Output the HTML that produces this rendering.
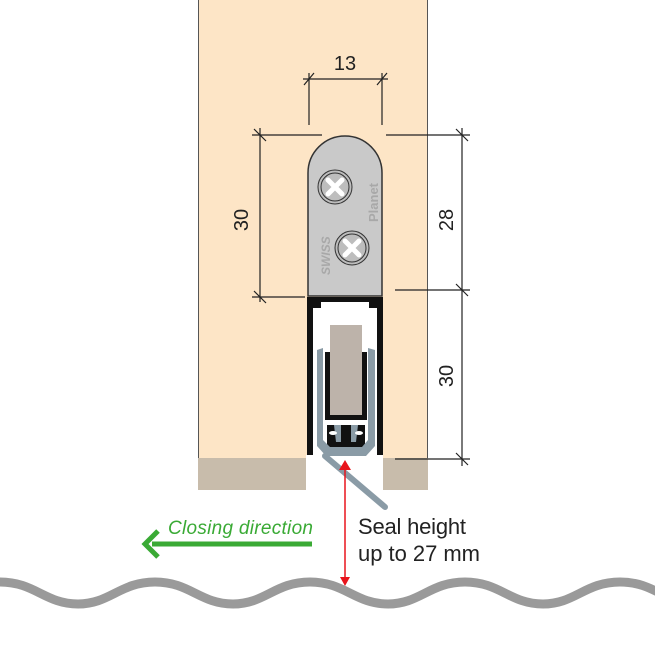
<!DOCTYPE html>
<html><head><style>body{margin:0;background:#fff}svg{display:block}</style></head><body>
<svg width="655" height="655" viewBox="0 0 655 655" xmlns="http://www.w3.org/2000/svg" font-family="Liberation Sans, sans-serif">
<rect x="198" y="0" width="230" height="490" fill="#fde5c6"/>
<line x1="427.5" y1="0" x2="427.5" y2="490" stroke="#555" stroke-width="1"/>
<line x1="198.5" y1="0" x2="198.5" y2="490" stroke="#555" stroke-width="1"/>
<rect x="198" y="458" width="108" height="32" fill="#c8bcab"/>
<rect x="383" y="458" width="45" height="32" fill="#c8bcab"/>
<rect x="306" y="455" width="77" height="36" fill="#fff"/>
<!-- channel -->
<rect x="307" y="297" width="76" height="161" fill="#fff"/>
<rect x="307" y="297" width="6" height="158" fill="#111"/>
<rect x="377" y="297" width="6" height="158" fill="#111"/>
<rect x="307" y="297" width="76" height="5" fill="#111"/>
<rect x="313" y="302" width="8" height="6" fill="#111"/>
<rect x="369" y="302" width="8" height="6" fill="#111"/>
<!-- grey block -->
<rect x="330" y="325" width="32" height="90" fill="#bdb3aa"/>
<!-- inner black U -->
<path d="M325 352 V420 H367 V352 H362 V415 H330 V352 Z" fill="#111"/>
<path d="M327 425 H365 V448 H327 Z" fill="#111"/>
<!-- seal profile -->
<path d="M317 350 L323 348 L323 440 L330 447 L362 447 L368 440 L368 348 L375 350 L375 446 L366 456 L326 456 L317 446 Z" fill="#8a9ba6"/>
<path d="M334 425 H341 V442 H336 Z M351 425 H358 L356 442 H351Z" fill="#8a9ba6"/>
<ellipse cx="333" cy="433" rx="4" ry="2" fill="#fff"/>
<ellipse cx="359" cy="433" rx="4" ry="2" fill="#fff"/>
<line x1="325" y1="456" x2="385" y2="507" stroke="#8a9ba6" stroke-width="6" stroke-linecap="round"/>
<!-- cap -->
<path d="M308 296 V173 A37 37 0 0 1 382 173 V296 Z" fill="#c9c9c9" stroke="#333" stroke-width="1.5"/>
<g stroke="#333" stroke-width="1" fill="#bdbdbd">
<circle cx="335" cy="187" r="17"/><circle cx="335" cy="187" r="14"/>
<circle cx="352" cy="248" r="17"/><circle cx="352" cy="248" r="14"/>
</g>
<g stroke="#fff" stroke-width="5" stroke-linecap="round">
<path d="M328 180 L342 194 M342 180 L328 194"/>
<path d="M345 241 L359 255 M359 241 L345 255"/>
</g>
<text transform="translate(378,222) rotate(-90)" font-size="13" font-weight="bold" fill="#a8a8a8">Planet</text>
<text transform="translate(330,275) rotate(-90)" font-size="12" font-weight="bold" font-style="italic" fill="#a8a8a8">SWISS</text>
<!-- dimensions -->
<g stroke="#222" stroke-width="1.2" fill="none">
<path d="M309 73 V125 M382 73 V125 M303 79 H388"/>
<path d="M304 85 L314 73 M377 85 L387 73"/>
<path d="M252 135 H322 M386 135 H470 M252 297 H305 M395 290 H470 M395 459 H470"/>
<path d="M260 128 V302 M462 128 V466"/>
<path d="M254 129 L266 141 M254 291 L266 303 M456 129 L468 141 M456 284 L468 296 M456 453 L468 465"/>
</g>
<text x="345" y="70" font-size="20" text-anchor="middle" fill="#222">13</text>
<text transform="translate(248,220) rotate(-90)" font-size="20" text-anchor="middle" fill="#222">30</text>
<text transform="translate(453,220) rotate(-90)" font-size="20" text-anchor="middle" fill="#222">28</text>
<text transform="translate(453,376) rotate(-90)" font-size="20" text-anchor="middle" fill="#222">30</text>
<!-- red arrow -->
<line x1="345" y1="470" x2="345" y2="578" stroke="#e8141c" stroke-width="1.5"/>
<path d="M339 470 L345 460 L351 470 Z M340 577 L345 586 L350 577 Z" fill="#e8141c"/>
<!-- green arrow -->
<line x1="152" y1="544" x2="312" y2="544" stroke="#3aaa35" stroke-width="5"/>
<path d="M158 531 L145 544 L158 557" fill="none" stroke="#3aaa35" stroke-width="5"/>
<text x="168" y="534" font-size="19" font-style="italic" fill="#3aaa35" textLength="145">Closing direction</text>
<text x="358" y="534" font-size="22" fill="#222" textLength="108">Seal height</text>
<text x="358" y="561" font-size="22" fill="#222" textLength="122">up to 27 mm</text>
<!-- floor -->
<path d="M-40 604 C-10 604 -10 582 0 582 C35 582 45 604 78 604 C110 604 120 582 155 582 C190 582 200 604 233 604 C265 604 275 582 310 582 C345 582 355 604 388 604 C420 604 430 582 465 582 C500 582 510 604 543 604 C575 604 585 582 620 582 C655 582 665 604 698 604" fill="none" stroke="#9a9a9a" stroke-width="9"/>
</svg>
</body></html>
